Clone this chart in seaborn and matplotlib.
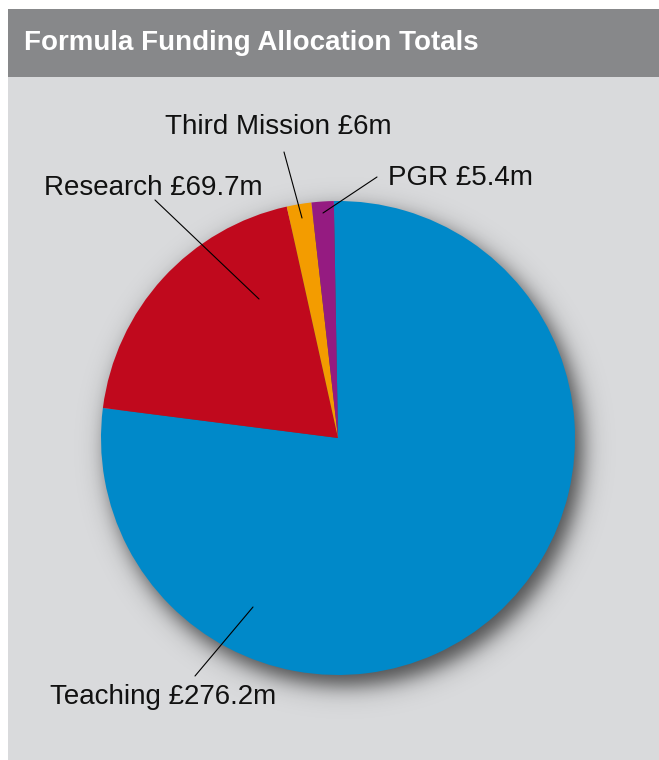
import numpy as np
import matplotlib
matplotlib.use("Agg")
import matplotlib.pyplot as plt
from matplotlib.patches import Rectangle
import seaborn as sns
from matplotlib import font_manager

categories = ["Teaching", "Research", "Third Mission", "PGR"]
values = [276.2, 69.7, 6.0, 5.4]
labels = ["Teaching £276.2m", "Research £69.7m", "Third Mission £6m", "PGR £5.4m"]
title = "Formula Funding Allocation Totals"

sns.set_style("white")
names = {f.name for f in font_manager.fontManager.ttflist}
fam = "Liberation Sans Narrow" if "Liberation Sans Narrow" in names else "Liberation Sans"
plt.rcParams["font.family"] = [fam, "DejaVu Sans"]

colors = sns.color_palette(["#0089c9", "#c0091d", "#f39c00", "#951b81"])

W, H = 659, 760
fig = plt.figure(figsize=(W / 100, H / 100), dpi=100)
fig.patch.set_facecolor("white")
fig.patches.append(Rectangle((8 / W, 0), 1, (H - 77) / H, transform=fig.transFigure,
                             facecolor="#d9dadc", edgecolor="none", zorder=-10))
fig.patches.append(Rectangle((8 / W, (H - 77) / H), 1, (77 - 9) / H, transform=fig.transFigure,
                             facecolor="#87888a", edgecolor="none", zorder=-10))
fig.text(24 / W, 1 - 43 / H, title, color="white", fontsize=20, fontweight="bold",
         va="center", ha="left")

ax = fig.add_axes([0, 0, 1, 1])
ax.patch.set_alpha(0)
cx, cy, R = 338, H - 438, 237

# soft drop shadow
xx, yy = np.meshgrid(np.arange(W) + 0.5, np.arange(H) + 0.5)
d = np.hypot(xx - (cx + 7), yy - (cy - 10)) - (R + 1)
alpha = 0.65 / (1 + np.exp(d / 6.5))
img = np.zeros((H, W, 4))
img[..., 3] = alpha
ax.imshow(img, extent=(0, W, 0, H), origin="lower", zorder=0, interpolation="bilinear")

wedges, _ = ax.pie(values, colors=colors, startangle=91, counterclock=False,
                   center=(cx, cy), radius=R, wedgeprops=dict(linewidth=0))
for w in wedges:
    w.set_zorder(2)

ax.set_xlim(0, W)
ax.set_ylim(0, H)
ax.set_aspect("auto")
ax.axis("off")

ann = [
    ((50, 697), (253, 607), (195, 676)),
    ((44, 188), (259, 299), (155, 200)),
    ((165, 127), (302, 218), (284, 152)),
    ((388, 178), (323, 213), (377, 177)),
]
for lab, (tp, ap, ls) in zip(labels, ann):
    ax.text(tp[0], H - tp[1], lab, fontsize=20, ha="left", va="center", color="#111111", zorder=5)
    ax.plot([ls[0], ap[0]], [H - ls[1], H - ap[1]], color="black", lw=0.8, zorder=5)

fig.savefig("out.png", dpi=100)
